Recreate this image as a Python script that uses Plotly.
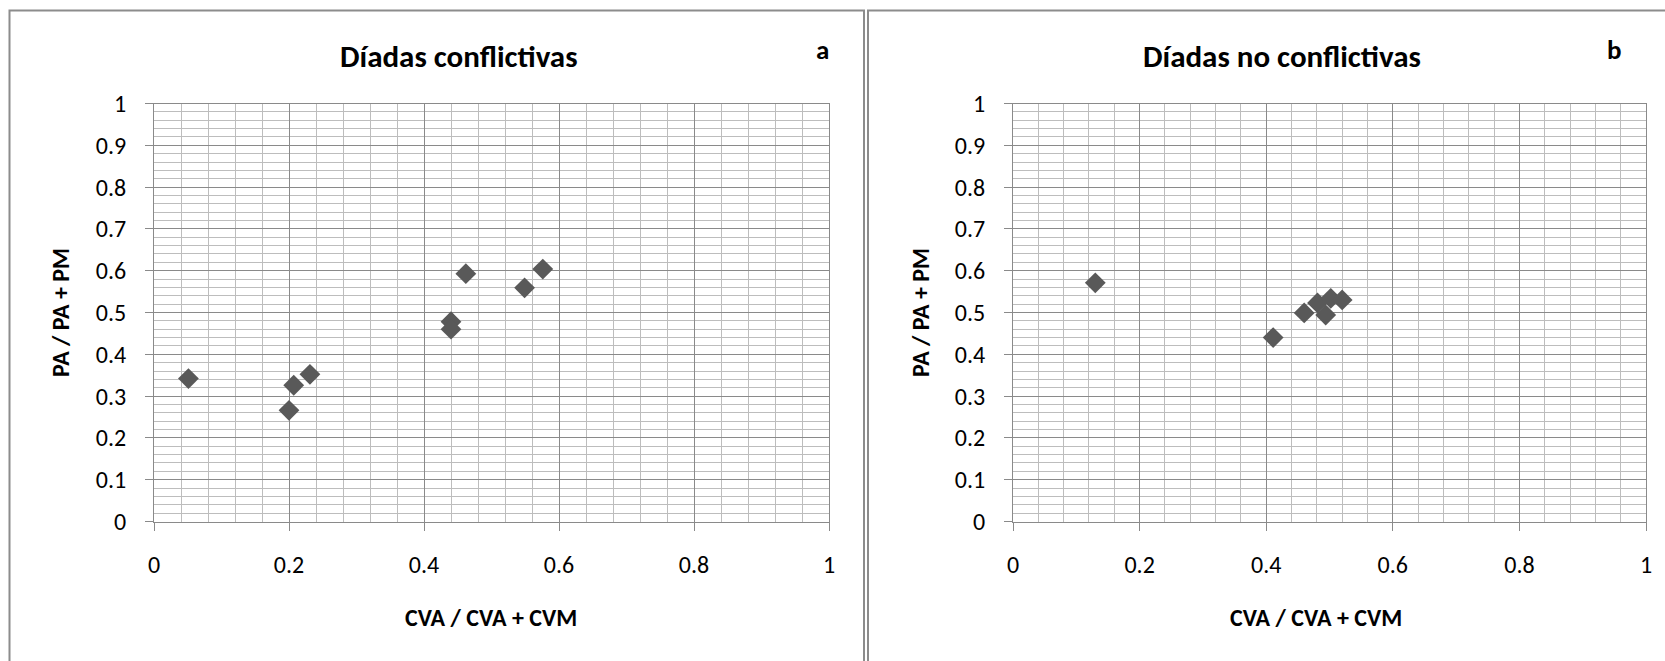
import plotly.graph_objects as go

# Data
left_x = [0.051, 0.200, 0.207, 0.231, 0.440, 0.440, 0.462, 0.549, 0.576]
left_y = [0.342, 0.266, 0.326, 0.352, 0.478, 0.460, 0.593, 0.559, 0.604]
right_x = [0.130, 0.411, 0.460, 0.481, 0.494, 0.502, 0.520]
right_y = [0.571, 0.440, 0.499, 0.523, 0.494, 0.534, 0.530]

titles = ["Díadas conflictivas", "Díadas no conflictivas"]
panel_letters = ["a", "b"]
x_title = "CVA / CVA + CVM"
y_title = "PA / PA + PM"
x_ticks = [0, 0.2, 0.4, 0.6, 0.8, 1]
y_ticks = [0, 0.1, 0.2, 0.3, 0.4, 0.5, 0.6, 0.7, 0.8, 0.9, 1]

W, H = 1665, 661
FONT = "Carlito, Lato, 'Liberation Sans', sans-serif"
MARK = "#595959"
MAJ = "#8a8a8a"
MIN = "#bdbdbd"

def px(x):
    return x / W

def py(y):
    return 1 - y / H

plot_top, plot_bot = 103.5, 521.5
left_dom = [px(154), px(829)]
right_dom = [px(1013), px(1646)]
y_dom = [py(plot_bot), py(plot_top)]

fig = go.Figure()
fig.add_trace(go.Scatter(x=left_x, y=left_y, mode="markers", xaxis="x", yaxis="y",
                         marker=dict(symbol="diamond", size=16, color=MARK, line=dict(width=0)),
                         showlegend=False))
fig.add_trace(go.Scatter(x=right_x, y=right_y, mode="markers", xaxis="x2", yaxis="y2",
                         marker=dict(symbol="diamond", size=16, color=MARK, line=dict(width=0)),
                         showlegend=False))

def xax(dom, anchor):
    return dict(domain=dom, anchor=anchor, range=[0, 1], tickvals=x_ticks,
                ticktext=[f"{v:g}" for v in x_ticks],
                showgrid=True, gridcolor=MAJ, gridwidth=1,
                minor=dict(dtick=0.04, tick0=0, showgrid=True, gridcolor=MIN, gridwidth=1, ticks=""),
                showline=True, linecolor=MAJ, linewidth=1, mirror=True,
                ticks="outside", ticklen=8, tickcolor=MAJ, tickwidth=1,
                ticklabelstandoff=14, automargin=False,
                tickfont=dict(family=FONT, size=24, color="#000"),
                zeroline=False, fixedrange=True)

def yax(anchor):
    return dict(domain=y_dom, anchor=anchor, range=[0, 1], tickvals=y_ticks,
                ticktext=[f"{v:g}" for v in y_ticks],
                showgrid=True, gridcolor=MAJ, gridwidth=1,
                minor=dict(dtick=0.02, tick0=0, showgrid=True, gridcolor=MIN, gridwidth=1, ticks=""),
                showline=True, linecolor=MAJ, linewidth=1, mirror=True,
                ticks="outside", ticklen=8, tickcolor=MAJ, tickwidth=1,
                ticklabelstandoff=14, automargin=False,
                tickfont=dict(family=FONT, size=24, color="#000"),
                zeroline=False, fixedrange=True)

fig.update_layout(
    template="none",
    width=W, height=H, autosize=False,
    margin=dict(l=0, r=0, t=0, b=0, pad=0),
    paper_bgcolor="white", plot_bgcolor="white",
    xaxis=xax(left_dom, "y"), yaxis=yax("x"),
    xaxis2=xax(right_dom, "y2"), yaxis2=yax("x2"),
    font=dict(family=FONT, color="#000"),
    showlegend=False,
)

# Panel borders
border = dict(color="#8c8c8c", width=2)
fig.add_shape(type="rect", xref="paper", yref="paper",
              x0=px(9.5), x1=px(864), y0=py(700), y1=py(10.5), line=border)
fig.add_shape(type="rect", xref="paper", yref="paper",
              x0=px(868), x1=px(1700), y0=py(700), y1=py(10.5), line=border)

ann = []
# Titles
ann.append(dict(text=f"<b>{titles[0]}</b>", x=px(459), y=py(56), font=dict(size=31)))
ann.append(dict(text=f"<b>{titles[1]}</b>", x=px(1282), y=py(56), font=dict(size=31)))
ann.append(dict(text=f"<b>{panel_letters[0]}</b>", x=px(822), y=py(49), font=dict(size=27)))
ann.append(dict(text=f"<b>{panel_letters[1]}</b>", x=px(1614), y=py(49), font=dict(size=27)))
# Axis titles
ann.append(dict(text=f"<b>{x_title}</b>", x=px(491), y=py(617), font=dict(size=24)))
ann.append(dict(text=f"<b>{x_title}</b>", x=px(1316), y=py(617), font=dict(size=24)))
ann.append(dict(text=f"<b>{y_title}</b>", x=px(60), y=py(313), font=dict(size=24), textangle=-90))
ann.append(dict(text=f"<b>{y_title}</b>", x=px(920), y=py(313), font=dict(size=24), textangle=-90))

for a in ann:
    a.update(xref="paper", yref="paper", showarrow=False, xanchor="center", yanchor="middle")
    a["font"].update(family=FONT, color="#000")
fig.update_layout(annotations=ann)

fig.write_html("out.html", include_plotlyjs=True, full_html=True,
               config={"displayModeBar": False, "staticPlot": True},
               post_script="document.body.style.margin='0';document.body.style.padding='0';")
